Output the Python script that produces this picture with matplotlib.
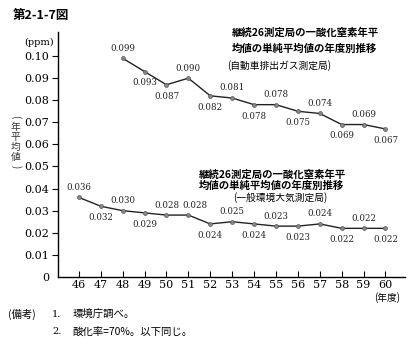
import matplotlib
matplotlib.use('Agg')
import matplotlib.pyplot as plt
from matplotlib.ticker import FixedLocator, FuncFormatter

plt.rcParams['font.family'] = ['Noto Sans CJK JP', 'DejaVu Sans']

# 年度 (昭和)
years_auto = [48, 49, 50, 51, 52, 53, 54, 55, 56, 57, 58, 59, 60]
no_auto = [0.099, 0.093, 0.087, 0.090, 0.082, 0.081, 0.078, 0.078, 0.075, 0.074, 0.069, 0.069, 0.067]
pos_auto = ['a', 'b', 'b', 'a', 'b', 'a', 'b', 'a', 'b', 'a', 'b', 'a', 'b']

years_gen = [46, 47, 48, 49, 50, 51, 52, 53, 54, 55, 56, 57, 58, 59, 60]
no_gen = [0.036, 0.032, 0.030, 0.029, 0.028, 0.028, 0.024, 0.025, 0.024, 0.023, 0.023, 0.024, 0.022, 0.022, 0.022]
pos_gen = ['a', 'b', 'a', 'b', 'a', 'a', 'b', 'a', 'b', 'a', 'b', 'a', 'b', 'a', 'b']

yticks = [0, 0.01, 0.02, 0.03, 0.04, 0.05, 0.06, 0.07, 0.08, 0.09, 0.10]
num_font = 'DejaVu Serif'

fig = plt.figure(figsize=(4.16, 3.44), dpi=100)
ax = fig.add_axes([0.139, 0.195, 0.835, 0.712])
ax.set_xlim(45.04, 60.9)
ax.set_ylim(0, 0.1109)

for xs, ys, ps in [(years_auto, no_auto, pos_auto), (years_gen, no_gen, pos_gen)]:
    ax.plot(xs, ys, color='#222222', lw=1.0, marker='o', ms=2.8,
            mfc='#888888', mec='#555555', mew=0.5)
    prev = None
    for x, y, p in zip(xs, ys, ps):
        dy = 4 if p == 'a' else -5
        # 上側ラベルが続くときは右へずらす
        dx = 5 if (prev == p == 'a') else 0
        prev = p
        ax.annotate(f'{y:.3f}', (x, y), xytext=(dx, dy), textcoords='offset points',
                    ha='center', va='bottom' if p == 'a' else 'top',
                    fontsize=6.2, family=num_font, color='#222222')

ax.spines['top'].set_visible(False)
ax.spines['right'].set_visible(False)
ax.spines['left'].set_linewidth(1.0)
ax.spines['bottom'].set_linewidth(1.0)

ax.xaxis.set_major_locator(FixedLocator(years_gen))
ax.yaxis.set_major_locator(FixedLocator(yticks))
ax.yaxis.set_major_formatter(FuncFormatter(lambda v, p: '0' if v == 0 else f'{v:.2f}'))
ax.tick_params(axis='x', direction='in', length=4, pad=2, labelsize=8)
ax.tick_params(axis='y', direction='out', length=4, pad=2, labelsize=8)
for lab in ax.get_xticklabels() + ax.get_yticklabels():
    lab.set_family(num_font)
ax.get_yticklines()[0].set_visible(False)

fig.text(0.03, 0.955, '第2-1-7図', fontsize=9, weight='bold', va='center')
fig.text(0.095, 0.878, '(ppm)', fontsize=7, family=num_font, ha='center', va='center')

# 縦書きの軸ラベル
ylab_chars = ['(', '年', '平', '均', '値', ')']
for i, ch in enumerate(ylab_chars):
    rot = -90 if ch in '()' else 0
    fig.text(0.038, 0.66 - i * 0.029, ch, fontsize=7, ha='center', va='center',
             rotation=rot, color='#333333')

fig.text(0.557, 0.905, '継続26測定局の一酸化窒素年平', fontsize=7.5, weight='bold', va='center')
fig.text(0.557, 0.858, '均値の単純平均値の年度別推移', fontsize=7.5, weight='bold', va='center')
fig.text(0.545, 0.81, '(自動車排出ガス測定局)', fontsize=7, va='center')

fig.text(0.478, 0.492, '継続26測定局の一酸化窒素年平', fontsize=7.5, weight='bold', va='center')
fig.text(0.478, 0.459, '均値の単純平均値の年度別推移', fontsize=7.5, weight='bold', va='center')
fig.text(0.56, 0.425, '(一般環境大気測定局)', fontsize=7, va='center')

fig.text(0.93, 0.135, '(年度)', fontsize=7, ha='center', va='center')

fig.text(0.02, 0.087, '(備考)', fontsize=7.5, va='center')
fig.text(0.125, 0.087, '1.', fontsize=7, family=num_font, va='center')
fig.text(0.175, 0.087, '環境庁調べ。', fontsize=7.5, va='center')
fig.text(0.125, 0.035, '2.', fontsize=7, family=num_font, va='center')
fig.text(0.175, 0.035, '酸化率=70%。以下同じ。', fontsize=7.5, va='center')

fig.savefig('out.png', dpi=100)
